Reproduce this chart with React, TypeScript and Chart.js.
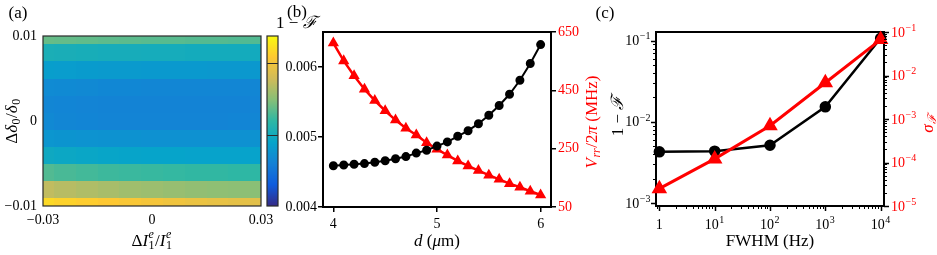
import React, { useEffect, useRef } from "react";
import { Chart, registerables } from "chart.js";
Chart.register(...registerables);

const SERIF = '"Liberation Serif", "DejaVu Serif", serif';
const TICK_PX = 14;
const TITLE_PX = 17;
const RED = "#ff0000";

// ---------- Panel (a): heatmap ----------
const A_COLS = [-0.03, -0.024, -0.018, -0.012, -0.006, 0, 0.006, 0.012, 0.018, 0.024, 0.03];
const A_ROWS = [0.01, 0.008, 0.006, 0.004, 0.002, 0, -0.002, -0.004, -0.006, -0.008, -0.01];
const A_GRID = [
  [0.00538, 0.00537, 0.00536, 0.00535, 0.00534, 0.00533, 0.00533, 0.00532, 0.00532, 0.00531, 0.00531],
  [0.00505, 0.00504, 0.00503, 0.00502, 0.00502, 0.00501, 0.00501, 0.005, 0.005, 0.005, 0.00499],
  [0.00484, 0.00483, 0.00482, 0.00481, 0.00481, 0.0048, 0.0048, 0.0048, 0.00479, 0.00479, 0.00479],
  [0.00468, 0.00467, 0.00466, 0.00465, 0.00465, 0.00464, 0.00464, 0.00464, 0.00464, 0.00464, 0.00464],
  [0.00464, 0.00463, 0.00462, 0.00461, 0.00461, 0.00461, 0.00461, 0.00461, 0.00461, 0.00461, 0.00462],
  [0.00466, 0.00464, 0.00463, 0.00462, 0.00462, 0.00462, 0.00462, 0.00462, 0.00462, 0.00463, 0.00464],
  [0.00477, 0.00476, 0.00475, 0.00474, 0.00474, 0.00473, 0.00473, 0.00473, 0.00473, 0.00473, 0.00474],
  [0.00496, 0.00494, 0.00492, 0.00491, 0.0049, 0.00489, 0.00489, 0.00488, 0.00488, 0.00488, 0.00488],
  [0.00531, 0.00528, 0.00526, 0.00524, 0.00523, 0.00522, 0.00521, 0.0052, 0.0052, 0.00519, 0.00519],
  [0.00572, 0.00568, 0.00565, 0.00562, 0.00559, 0.00557, 0.00555, 0.00553, 0.00552, 0.00551, 0.0055],
  [0.00618, 0.00614, 0.00611, 0.00608, 0.00605, 0.00602, 0.00599, 0.00596, 0.00594, 0.00592, 0.0059],
];
const A_X_TICKS = [-0.03, 0, 0.03];
const A_Y_TICKS = [-0.01, 0, 0.01];
const CB_MIN = 0.004;
const CB_MAX = 0.00638;
const CB_LINES = [0.005, 0.006];
const PARULA_STOPS = ["#352a87", "#0f5cdd", "#1481d6", "#06a4ca", "#2eb7a4", "#87bf77", "#d1bb59", "#fec832", "#f9fb0e"];

// ---------- Panel (b) ----------
const B_D = [4.0, 4.1, 4.2, 4.3, 4.4, 4.5, 4.6, 4.7, 4.8, 4.9, 5.0, 5.1, 5.2, 5.3, 5.4, 5.5, 5.6, 5.7, 5.8, 5.9, 6.0];
const B_INFID = [0.00459, 0.0046, 0.00461, 0.00462, 0.00464, 0.00466, 0.00469, 0.00472, 0.00477, 0.00481, 0.00487,
  0.00493, 0.00501, 0.00509, 0.00519, 0.00531, 0.00545, 0.00561, 0.00581, 0.00605, 0.00632];
const B_VRR = [612, 551, 500, 454, 415, 380, 348, 320, 297, 270, 248, 228, 208, 191, 175, 159, 145, 130, 118, 104, 91];
const B_X_TICKS = [4, 5, 6];
const B_L_TICKS = [0.004, 0.005, 0.006];
const B_R_TICKS = [50, 250, 450, 650];

// ---------- Panel (c) ----------
const C_FWHM = [1, 10, 100, 1000, 10000];
const C_INFID = [0.00427, 0.00435, 0.00515, 0.0153, 0.107];
const C_SIGMA = [2.5e-5, 1.21e-4, 7.0e-4, 6.8e-3, 0.067];
const C_X_DECADES = [0, 1, 2, 3, 4];
const C_L_DECADES = [-3, -2, -1];
const C_R_DECADES = [-5, -4, -3, -2, -1];

function hexRgb(h: string) {
  return [parseInt(h.slice(1, 3), 16), parseInt(h.slice(3, 5), 16), parseInt(h.slice(5, 7), 16)];
}
function parula(t: number) {
  const tt = Math.max(0, Math.min(1, t)) * (PARULA_STOPS.length - 1);
  const i = Math.min(PARULA_STOPS.length - 2, Math.floor(tt));
  const f = tt - i;
  const a = hexRgb(PARULA_STOPS[i]);
  const b = hexRgb(PARULA_STOPS[i + 1]);
  const c = a.map((v, k) => Math.round(v + (b[k] - v) * f));
  return `rgb(${c[0]},${c[1]},${c[2]})`;
}

type Part = { t: string; it?: boolean; sub?: string; sup?: string; subIt?: boolean; supIt?: boolean };
function drawMath(
  ctx: CanvasRenderingContext2D,
  parts: Part[],
  x: number,
  y: number,
  size: number,
  color = "#000",
  align: "left" | "center" | "right" = "center",
  rot = 0
) {
  const ss = Math.round(size * 0.7);
  const font = (it: boolean | undefined, s: number) => `${it ? "italic " : ""}${s}px ${SERIF}`;
  const widths = parts.map((p) => {
    ctx.font = font(p.it, size);
    const m = ctx.measureText(p.t).width;
    let s = 0;
    if (p.sub) {
      ctx.font = font(p.subIt, ss);
      s = Math.max(s, ctx.measureText(p.sub).width);
    }
    if (p.sup) {
      ctx.font = font(p.supIt, ss);
      s = Math.max(s, ctx.measureText(p.sup).width);
    }
    return [m, s ? s + 1 : 0];
  });
  const total = widths.reduce((a, w) => a + w[0] + w[1], 0);
  ctx.save();
  ctx.translate(x, y);
  if (rot) ctx.rotate(rot);
  ctx.fillStyle = color;
  ctx.textBaseline = "alphabetic";
  ctx.textAlign = "left";
  let cx = align === "left" ? 0 : align === "right" ? -total : -total / 2;
  const base = size * 0.33;
  parts.forEach((p, i) => {
    ctx.font = font(p.it, size);
    ctx.fillText(p.t, cx, base);
    cx += widths[i][0];
    if (widths[i][1]) {
      if (p.sub) {
        ctx.font = font(p.subIt, ss);
        ctx.fillText(p.sub, cx + 0.5, base + size * 0.22);
      }
      if (p.sup) {
        ctx.font = font(p.supIt, ss);
        ctx.fillText(p.sup, cx + 0.5, base - size * 0.42);
      }
      cx += widths[i][1];
    }
  });
  ctx.restore();
}

const ONE_MINUS_F: Part[] = [{ t: "1 − " }, { t: "ℱ", it: true }];

function fixedTicks(list: number[]) {
  return (s: any) => {
    s.ticks = list.map((v) => ({ value: v }));
  };
}
function fmtSigned(v: number) {
  if (v === 0) return "0";
  return (v < 0 ? "−" : "") + String(Math.abs(v));
}
const tickFont = { family: SERIF, size: TICK_PX };
const baseOpts = {
  responsive: false,
  maintainAspectRatio: false,
  animation: false as const,
  events: [] as any[],
  plugins: { legend: { display: false }, tooltip: { enabled: false } },
};

function frame(color: string, width: number) {
  return {
    id: "frame",
    beforeDatasetsDraw(chart: any) {
      const { ctx, chartArea: a } = chart;
      ctx.save();
      ctx.strokeStyle = color;
      ctx.lineWidth = width;
      ctx.strokeRect(a.left, a.top, a.right - a.left, a.bottom - a.top);
      ctx.restore();
    },
  };
}

function makeA(canvas: HTMLCanvasElement) {
  const heat = {
    id: "heat",
    beforeDatasetsDraw(chart: any) {
      const { ctx, chartArea: a, scales } = chart;
      const xs = scales.x, ys = scales.y, cb = scales.cb;
      const hx = Math.abs(A_COLS[1] - A_COLS[0]) / 2;
      const hy = Math.abs(A_ROWS[1] - A_ROWS[0]) / 2;
      ctx.save();
      A_ROWS.forEach((r, i) => {
        const y0 = Math.round(ys.getPixelForValue(Math.min(ys.max, r + hy)));
        const y1 = Math.round(ys.getPixelForValue(Math.max(ys.min, r - hy)));
        A_COLS.forEach((c, j) => {
          const x0 = Math.round(xs.getPixelForValue(Math.max(xs.min, c - hx)));
          const x1 = Math.round(xs.getPixelForValue(Math.min(xs.max, c + hx)));
          ctx.fillStyle = parula((A_GRID[i][j] - cb.min) / (cb.max - cb.min));
          ctx.fillRect(x0, y0, x1 - x0, y1 - y0);
        });
      });
      ctx.strokeStyle = "#2a2a2a";
      ctx.lineWidth = 1.2;
      ctx.strokeRect(a.left, a.top, a.right - a.left, a.bottom - a.top);
      // colorbar
      const cx0 = Math.round(a.right + 6);
      const cw = 11;
      const top = Math.round(cb.top), bot = Math.round(cb.bottom);
      for (let py = top; py < bot; py++) {
        const v = cb.getValueForPixel(py + 0.5);
        ctx.fillStyle = parula((v - cb.min) / (cb.max - cb.min));
        ctx.fillRect(cx0, py, cw, 1);
      }
      ctx.strokeStyle = "#2a2a2a";
      ctx.lineWidth = 1;
      CB_LINES.forEach((v) => {
        const py = Math.round(cb.getPixelForValue(v)) + 0.5;
        ctx.beginPath();
        ctx.moveTo(cx0, py);
        ctx.lineTo(cx0 + cw, py);
        ctx.stroke();
      });
      ctx.lineWidth = 1.2;
      ctx.strokeRect(cx0, top, cw, bot - top);
      ctx.restore();
    },
    afterDraw(chart: any) {
      const { ctx } = chart;
      drawMath(ctx, [{ t: "(a)" }], 18, 12, TITLE_PX);
      drawMath(ctx, [{ t: "Δ" }, { t: "I", it: true, sub: "1", sup: "e", supIt: true }, { t: "/" }, { t: "I", it: true, sub: "1", sup: "e", supIt: true }], 152, 240, TITLE_PX);
      drawMath(ctx, [{ t: "Δ" }, { t: "δ", it: true, sub: "0" }, { t: "/" }, { t: "δ", it: true, sub: "0" }], 11, 121, TITLE_PX, "#000", "center", -Math.PI / 2);
    },
  };
  return new Chart(canvas, {
    type: "scatter",
    data: { datasets: [] },
    options: {
      ...baseOpts,
      layout: { padding: { left: 0, right: 937 - 261 - 17, top: 36, bottom: 0 } },
      scales: {
        x: {
          type: "linear", min: -0.03, max: 0.03,
          afterBuildTicks: fixedTicks(A_X_TICKS),
          afterFit: (s: any) => { s.height = 49; },
          grid: { display: false, drawTicks: false }, border: { display: false },
          ticks: { font: tickFont, color: "#000", padding: 6, maxRotation: 0, autoSkip: false, callback: (v: any) => fmtSigned(Number(v)) },
        },
        y: {
          type: "linear", min: -0.01, max: 0.01,
          afterBuildTicks: fixedTicks(A_Y_TICKS),
          afterFit: (s: any) => { s.width = 43; },
          grid: { display: false, drawTicks: false }, border: { display: false },
          ticks: { font: tickFont, color: "#000", padding: 6, autoSkip: false, callback: (v: any) => fmtSigned(Number(v)) },
        },
        cb: {
          type: "linear", position: "right", min: CB_MIN, max: CB_MAX,
          afterFit: (s: any) => { s.width = 17; },
          grid: { display: false }, border: { display: false }, ticks: { display: false },
        },
      },
    } as any,
    plugins: [heat],
  });
}

const tickGrid = { display: true, drawOnChartArea: false, drawTicks: true, tickLength: 5, color: "#000", lineWidth: 1.5 };

function makeB(canvas: HTMLCanvasElement) {
  const labels = {
    id: "labelsB",
    afterDraw(chart: any) {
      const { ctx } = chart;
      drawMath(ctx, [{ t: "(b)" }], 297, 11, TITLE_PX);
      drawMath(ctx, ONE_MINUS_F, 276, 22, TITLE_PX, "#000", "left");
      drawMath(ctx, [{ t: "d", it: true }, { t: " (" }, { t: "μ", it: true }, { t: "m)" }], 437, 240, TITLE_PX);
      drawMath(ctx, [{ t: "V", it: true, sub: "rr", subIt: true }, { t: "/2" }, { t: "π", it: true }, { t: " (MHz)" }], 591, 122, TITLE_PX, RED, "center", -Math.PI / 2);
    },
  };
  return new Chart(canvas, {
    type: "scatter",
    data: {
      datasets: [
        {
          data: B_D.map((d, i) => ({ x: d, y: B_INFID[i] })), yAxisID: "y", showLine: true,
          borderColor: "#000", backgroundColor: "#000", borderWidth: 2, pointRadius: 3.5, pointStyle: "circle", clip: false,
        },
        {
          data: B_D.map((d, i) => ({ x: d, y: B_VRR[i] })), yAxisID: "y2", showLine: true,
          borderColor: RED, backgroundColor: RED, borderWidth: 2.5, pointRadius: 4, pointStyle: "triangle", clip: false,
        },
      ],
    },
    options: {
      ...baseOpts,
      layout: { padding: { left: 278, right: 937 - 551 - 70, top: 32, bottom: 0 } },
      scales: {
        x: {
          type: "linear", min: 3.9, max: 6.1,
          afterBuildTicks: fixedTicks(B_X_TICKS),
          afterFit: (s: any) => { s.height = 48; },
          grid: tickGrid, border: { display: false },
          ticks: { font: tickFont, color: "#000", padding: 4, maxRotation: 0, autoSkip: false, callback: (v: any) => String(v) },
        },
        y: {
          type: "linear", position: "left", min: 0.004, max: 0.0065,
          afterBuildTicks: fixedTicks(B_L_TICKS),
          afterFit: (s: any) => { s.width = 45; },
          grid: tickGrid, border: { display: false },
          ticks: { font: tickFont, color: "#000", padding: 1, autoSkip: false, callback: (v: any) => Number(v).toFixed(3) },
        },
        y2: {
          type: "linear", position: "right", min: 50, max: 650,
          afterBuildTicks: fixedTicks(B_R_TICKS),
          afterFit: (s: any) => { s.width = 70; },
          grid: tickGrid, border: { display: false },
          ticks: { font: tickFont, color: RED, padding: 2, autoSkip: false, callback: (v: any) => String(v) },
        },
      },
    } as any,
    plugins: [frame("#000", 2), labels],
  });
}

function supLabel(d: number): Part[] {
  if (d === 0) return [{ t: "1" }];
  return [{ t: "10", sup: d < 0 ? "−" + Math.abs(d) : String(d) }];
}

function makeC(canvas: HTMLCanvasElement) {
  const axes = {
    id: "axesC",
    afterDraw(chart: any) {
      const { ctx, chartArea: a, scales } = chart;
      ctx.save();
      ctx.strokeStyle = "#000";
      const each = (s: any, fn: (v: number, major: boolean) => void) => {
        const lo = Math.floor(Math.log10(s.min));
        const hi = Math.ceil(Math.log10(s.max));
        for (let d = lo; d <= hi; d++) {
          for (let m = 1; m <= 9; m++) {
            const v = m * Math.pow(10, d);
            if (v >= s.min * 0.9999 && v <= s.max * 1.0001) fn(v, m === 1);
          }
        }
      };
      each(scales.x, (v, major) => {
        const p = Math.round(scales.x.getPixelForValue(v)) + 0.5;
        ctx.lineWidth = major ? 1.5 : 1;
        ctx.beginPath();
        ctx.moveTo(p, a.bottom);
        ctx.lineTo(p, a.bottom + (major ? 5 : 3));
        ctx.stroke();
      });
      each(scales.y, (v, major) => {
        const p = Math.round(scales.y.getPixelForValue(v)) + 0.5;
        ctx.lineWidth = major ? 1.5 : 1;
        ctx.beginPath();
        ctx.moveTo(a.left, p);
        ctx.lineTo(a.left - (major ? 5 : 3), p);
        ctx.stroke();
      });
      each(scales.y2, (v, major) => {
        const p = Math.round(scales.y2.getPixelForValue(v)) + 0.5;
        ctx.lineWidth = major ? 1.5 : 1;
        ctx.beginPath();
        ctx.moveTo(a.right, p);
        ctx.lineTo(a.right + (major ? 5 : 3), p);
        ctx.stroke();
      });
      ctx.restore();
      C_X_DECADES.forEach((d) => {
        drawMath(ctx, supLabel(d), scales.x.getPixelForValue(Math.pow(10, d)), 224, TICK_PX);
      });
      C_L_DECADES.forEach((d) => {
        drawMath(ctx, supLabel(d), a.left - 5, scales.y.getPixelForValue(Math.pow(10, d)), TICK_PX, "#000", "right");
      });
      C_R_DECADES.forEach((d) => {
        drawMath(ctx, supLabel(d), a.right + 7, scales.y2.getPixelForValue(Math.pow(10, d)), TICK_PX, RED, "left");
      });
      drawMath(ctx, [{ t: "(c)" }], 605, 12, TITLE_PX);
      drawMath(ctx, [{ t: "FWHM (Hz)" }], 770, 240, TITLE_PX);
      drawMath(ctx, ONE_MINUS_F, 617, 116, TITLE_PX, "#000", "center", -Math.PI / 2);
      drawMath(ctx, [{ t: "σ", it: true, sub: "ℱ", subIt: true }], 927, 123, TITLE_PX, RED, "center", -Math.PI / 2);
    },
  };
  return new Chart(canvas, {
    type: "scatter",
    data: {
      datasets: [
        {
          data: C_FWHM.map((f, i) => ({ x: f, y: C_SIGMA[i] })), yAxisID: "y2", showLine: true,
          borderColor: RED, backgroundColor: RED, borderWidth: 3, pointRadius: 6, pointStyle: "triangle", clip: false,
        },
        {
          data: C_FWHM.map((f, i) => ({ x: f, y: C_INFID[i] })), yAxisID: "y", showLine: true,
          borderColor: "#000", backgroundColor: "#000", borderWidth: 2.5, pointRadius: 4.5, pointStyle: "circle", clip: false,
        },
      ],
    },
    options: {
      ...baseOpts,
      layout: { padding: { left: 606, right: 937 - 884 - 50, top: 32, bottom: 0 } },
      scales: {
        x: {
          type: "logarithmic", min: 0.87, max: 11500,
          afterFit: (s: any) => { s.height = 49; },
          grid: { display: false }, border: { display: false }, ticks: { display: false },
        },
        y: {
          type: "logarithmic", position: "left", min: 0.000918, max: 0.128,
          afterFit: (s: any) => { s.width = 50; },
          grid: { display: false }, border: { display: false }, ticks: { display: false },
        },
        y2: {
          type: "logarithmic", position: "right", min: 1e-5, max: 1e-1,
          afterFit: (s: any) => { s.width = 50; },
          grid: { display: false }, border: { display: false }, ticks: { display: false },
        },
      },
    } as any,
    plugins: [frame("#000", 2), axes],
  });
}

export default function App() {
  const refA = useRef<HTMLCanvasElement>(null);
  const refB = useRef<HTMLCanvasElement>(null);
  const refC = useRef<HTMLCanvasElement>(null);
  useEffect(() => {
    const charts = [makeA(refA.current!), makeB(refB.current!), makeC(refC.current!)];
    return () => charts.forEach((c) => c.destroy());
  }, []);
  const cs: React.CSSProperties = { position: "absolute", left: 0, top: 0, width: 937, height: 255 };
  return (
    <div style={{ position: "absolute", left: 0, top: 0, width: 937, height: 255, background: "#fff", overflow: "hidden" }}>
      <canvas ref={refA} width={937} height={255} style={cs} />
      <canvas ref={refB} width={937} height={255} style={cs} />
      <canvas ref={refC} width={937} height={255} style={cs} />
    </div>
  );
}
